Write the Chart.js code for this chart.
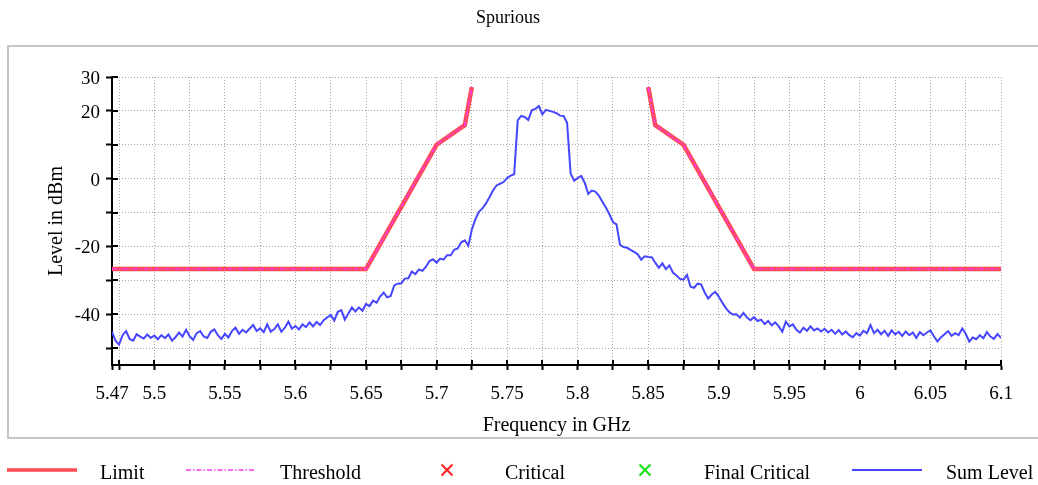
<!DOCTYPE html>
<html><head><meta charset="utf-8">
<script src="https://cdn.jsdelivr.net/npm/chart.js@4.4.1/dist/chart.umd.min.js"></script>
<style>html,body{margin:0;padding:0;background:#fff;overflow:hidden;}</style>
</head><body>
<canvas id="c" width="1038" height="485"></canvas>
<script>
// ---------- data ----------
const chartTitle = 'Spurious';
const xAxisTitle = 'Frequency in GHz';
const yAxisTitle = 'Level in dBm';
const seriesNames = ['Limit', 'Threshold', 'Critical', 'Final Critical', 'Sum Level'];

const limitFreq  = [5.47, 5.65, 5.7, 5.72, 5.725, 5.7875, 5.85, 5.855, 5.875, 5.925, 6.1];
const limitLevel = [-26.7, -26.7, 10, 15.8, 27, null, 27, 15.8, 10, -26.7, -26.7];
const thresholdFreq  = [5.47, 5.65, 5.7, 5.72, 5.725, 5.7875, 5.85, 5.855, 5.875, 5.925, 6.1];
const thresholdLevel = [-26.7, -26.7, 10, 15.8, 27, null, 27, 15.8, 10, -26.7, -26.7];
const criticalFreq = [];
const criticalLevel = [];
const finalCriticalFreq = [];
const finalCriticalLevel = [];

const sumStartGHz = 5.47;
const sumStepGHz = 0.0025;
const sumLevel = [
 -45.2, -47.8, -49.0, -46.2, -45.0, -47.3, -47.8, -45.9, -46.6, -47.2,
 -46.0, -47.0, -46.3, -47.4, -46.2, -47.1, -46.0, -47.8, -46.8, -45.4,
 -46.6, -44.6, -46.5, -47.6, -45.6, -45.0, -46.6, -47.0, -45.2, -44.5,
 -46.2, -47.3, -45.8, -46.9, -45.0, -44.0, -45.8, -44.6, -45.4, -44.3,
 -43.2, -45.0, -44.2, -45.3, -43.0, -45.2, -44.4, -43.0, -45.2, -44.0,
 -42.2, -44.3, -43.5, -44.5, -43.0, -43.8, -42.4, -43.6, -42.3, -43.2,
 -41.8, -41.0, -40.2, -41.9, -39.3, -38.8, -41.6, -39.8, -38.0, -39.2,
 -38.0, -39.0, -37.0, -37.6, -36.0, -36.6, -34.8, -33.6, -35.0, -34.6,
 -31.5, -31.0, -30.9, -29.5, -29.4, -27.4, -28.2, -26.8, -27.2, -26.0,
 -24.3, -23.8, -24.8, -23.6, -23.9, -22.6, -22.6, -21.0, -20.6, -18.8,
 -18.2, -19.8, -15.0, -12.0, -9.8, -8.8, -7.3, -5.5, -3.5, -2.0,
 -1.5, -1.0, 0.2, 0.9, 1.3, 17.2, 18.5, 18.2, 17.3, 20.2,
 20.6, 21.4, 19.0, 20.3, 20.0, 19.7, 19.3, 18.6, 18.5, 16.5,
 1.5, -0.6, 0.2, 0.8, -1.2, -4.5, -3.5, -3.8, -5.0, -6.8,
 -8.5, -10.5, -12.8, -13.5, -19.5, -20.2, -20.4, -21.0, -21.6, -22.3,
 -23.9, -22.9, -23.1, -23.2, -24.8, -26.3, -25.0, -26.7, -25.6, -27.7,
 -28.6, -29.6, -29.8, -28.4, -31.9, -32.2, -31.0, -31.2, -33.6, -35.4,
 -34.2, -33.4, -34.8, -36.6, -38.2, -39.4, -40.1, -40.0, -41.0, -39.6,
 -41.0, -41.8, -40.9, -42.0, -41.6, -42.9, -42.0, -43.3, -42.4, -43.6,
 -45.2, -42.2, -43.6, -43.0, -44.6, -45.4, -44.0, -44.9, -43.6, -44.8,
 -44.2, -45.1, -44.3, -45.4, -44.6, -45.8, -44.7, -46.0, -45.1, -46.2,
 -46.8, -45.6, -46.3, -44.9, -45.6, -43.2, -45.6, -44.6, -45.9, -44.9,
 -46.4, -44.8, -46.0, -45.2, -46.4, -45.1, -46.2, -45.4, -47.0, -45.3,
 -46.2, -45.4, -44.8, -46.6, -48.0, -46.8, -45.9, -45.0, -46.4, -45.6,
 -46.2, -44.2, -45.8, -48.1, -46.9, -47.4, -46.2, -47.1, -45.3, -46.6,
 -47.3, -45.9, -47.0
];

const xMin = 5.47, xMax = 6.1;
const yMin = -55, yMax = 30;
const xTickValues = [5.47, 5.475, 5.5, 5.525, 5.55, 5.575, 5.6, 5.625, 5.65, 5.675, 5.7, 5.725, 5.75, 5.775,
  5.8, 5.825, 5.85, 5.875, 5.9, 5.925, 5.95, 5.975, 6, 6.025, 6.05, 6.075, 6.1];
const xTickLabels = ['5.47', '', '5.5', '', '5.55', '', '5.6', '', '5.65', '', '5.7', '', '5.75', '',
  '5.8', '', '5.85', '', '5.9', '', '5.95', '', '6', '', '6.05', '', '6.1'];
const yTickValues = [-50, -40, -30, -20, -10, 0, 10, 20, 30];
const yTickLabels = ['', '-40', '', '-20', '', '0', '', '20', '30'];

// ---------- build ----------
const FONT = "'Liberation Serif', 'Times New Roman', serif";
Chart.defaults.font.family = FONT;
Chart.defaults.color = '#000';

const pairs = (xs, ys) => xs.map((x, i) => ({x: x, y: ys[i]}));
const sumData = sumLevel.map((v, i) => ({x: +(sumStartGHz + i * sumStepGHz).toFixed(4), y: v}));

const datasets = [
  {label: seriesNames[0], data: pairs(limitFreq, limitLevel), showLine: true, borderColor: '#ff4a55',
   borderWidth: 4.5, pointRadius: 0, order: 3, spanGaps: false, legendKind: 'line', legendWidth: 3.5},
  {label: seriesNames[1], data: pairs(thresholdFreq, thresholdLevel), showLine: true, borderColor: '#ff3cf0',
   borderWidth: 1.5, borderDash: [5, 2, 1.5, 2], pointRadius: 0, order: 1, spanGaps: false, legendKind: 'line', legendWidth: 1.5},
  {label: seriesNames[2], data: pairs(criticalFreq, criticalLevel), showLine: false, borderColor: '#ff2020',
   pointStyle: 'crossRot', pointRadius: 6, borderWidth: 2, order: 0, legendKind: 'cross'},
  {label: seriesNames[3], data: pairs(finalCriticalFreq, finalCriticalLevel), showLine: false, borderColor: '#10e010',
   pointStyle: 'crossRot', pointRadius: 6, borderWidth: 2, order: 0, legendKind: 'cross'},
  {label: seriesNames[4], data: sumData, showLine: true, borderColor: '#4646ff',
   borderWidth: 2, pointRadius: 0, order: 2, legendKind: 'line', legendWidth: 1.8}
];

const framePlugin = {
  id: 'frame',
  beforeDraw(chart) {
    const ctx = chart.ctx;
    ctx.save();
    ctx.fillStyle = '#fff';
    ctx.fillRect(0, 0, chart.width, chart.height);
    ctx.strokeStyle = '#c6c6c6';
    ctx.lineWidth = 2;
    ctx.strokeRect(8, 46, 1040, 392);
    ctx.restore();
  },
  afterDraw(chart) {
    const ctx = chart.ctx;
    const xs = chart.scales.x, ys = chart.scales.y;
    const ca = chart.chartArea;
    ctx.save();
    // inner halves of tick marks
    ctx.strokeStyle = '#000';
    ctx.lineWidth = 2;
    ctx.beginPath();
    xs.ticks.forEach(t => {
      const p = Math.round(xs.getPixelForValue(t.value));
      ctx.moveTo(p, ca.bottom); ctx.lineTo(p, ca.bottom - 5);
    });
    ys.ticks.forEach(t => {
      const p = Math.round(ys.getPixelForValue(t.value));
      ctx.moveTo(ca.left, p); ctx.lineTo(ca.left + 6, p);
    });
    ctx.stroke();
    // title
    ctx.fillStyle = '#000';
    ctx.font = '18px ' + FONT;
    ctx.textAlign = 'center';
    ctx.textBaseline = 'middle';
    ctx.fillText(chartTitle, 508, 18);
    // legend
    const symX = [7, 186, 412, 610, 852];
    const textX = [100, 280, 505, 704, 946];
    const symY = 470;
    chart.data.datasets.forEach((ds, i) => {
      ctx.save();
      ctx.strokeStyle = ds.borderColor;
      if (ds.legendKind === 'line') {
        ctx.lineWidth = ds.legendWidth;
        ctx.setLineDash(ds.borderDash || []);
        ctx.beginPath();
        ctx.moveTo(symX[i], symY); ctx.lineTo(symX[i] + 70, symY);
        ctx.stroke();
      } else {
        const cx = symX[i] + 35, r = 5.5;
        ctx.lineWidth = 2;
        ctx.beginPath();
        ctx.moveTo(cx - r, symY - r); ctx.lineTo(cx + r, symY + r);
        ctx.moveTo(cx + r, symY - r); ctx.lineTo(cx - r, symY + r);
        ctx.stroke();
      }
      ctx.restore();
      ctx.fillStyle = '#000';
      ctx.font = '20px ' + FONT;
      ctx.textAlign = 'left';
      ctx.textBaseline = 'alphabetic';
      ctx.fillText(ds.label, textX[i], 479);
    });
    ctx.restore();
  }
};

new Chart(document.getElementById('c'), {
  type: 'scatter',
  data: {datasets: datasets},
  plugins: [framePlugin],
  options: {
    responsive: false,
    devicePixelRatio: 1,
    animation: false,
    events: [],
    layout: {padding: {left: 0, right: 37, top: 77, bottom: 47}},
    plugins: {legend: {display: false}, title: {display: false}, tooltip: {enabled: false}},
    scales: {
      x: {
        type: 'linear', min: xMin, max: xMax,
        afterBuildTicks: s => { s.ticks = xTickValues.map(v => ({value: v})); },
        afterFit: s => { s.height = 73; },
        ticks: {autoSkip: false, maxRotation: 0, minRotation: 0, padding: 13,
          font: {size: 19}, color: '#000', callback: (v, i) => xTickLabels[i]},
        grid: {color: '#a6a6a6', lineWidth: 1, tickColor: '#000', tickWidth: 2, tickLength: 5},
        border: {color: '#000', width: 2, dash: [1, 2]},
        title: {display: true, text: xAxisTitle, font: {size: 20}, color: '#000', padding: {top: 0, bottom: 0}}
      },
      y: {
        type: 'linear', min: yMin, max: yMax,
        afterBuildTicks: s => { s.ticks = yTickValues.map(v => ({value: v})); },
        afterFit: s => { s.width = 112; },
        ticks: {autoSkip: false, padding: 6, labelOffset: 2, font: {size: 19}, color: '#000',
          callback: (v, i) => yTickLabels[i]},
        grid: {color: '#a6a6a6', lineWidth: 1, tickColor: '#000', tickWidth: 2, tickLength: 6},
        border: {color: '#000', width: 2, dash: [1, 2]},
        title: {display: true, text: yAxisTitle, font: {size: 20}, color: '#000', padding: {top: 45, bottom: 0}}
      }
    }
  }
});
</script>
</body></html>
